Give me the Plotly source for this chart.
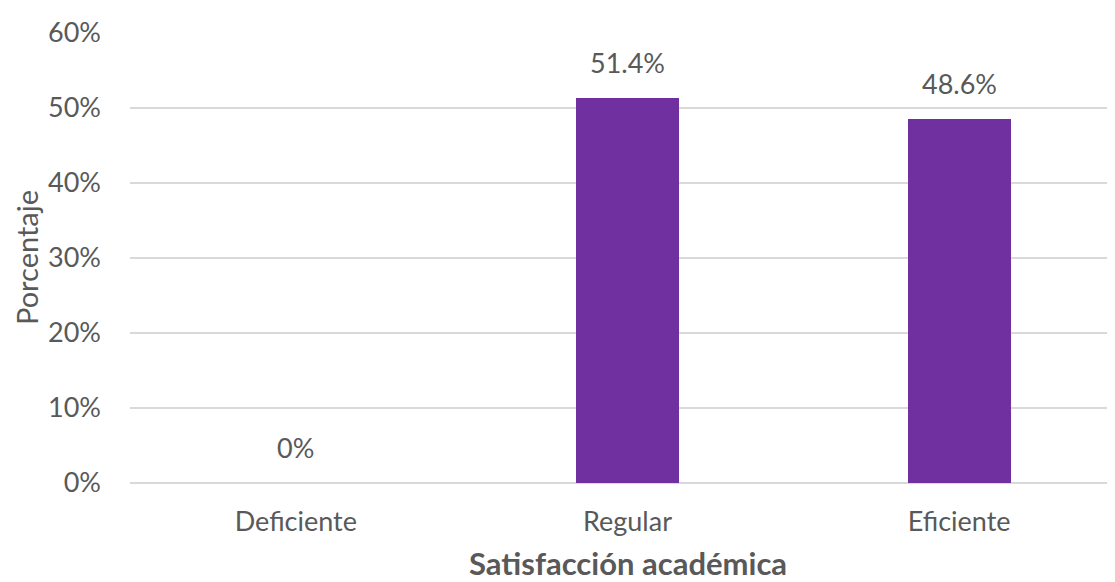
import plotly.graph_objects as go

categories = ["Deficiente", "Regular", "Eficiente"]
values = [0.0, 0.514, 0.486]
labels = ["0%", "51.4%", "48.6%"]
tick_vals = [0, 0.1, 0.2, 0.3, 0.4, 0.5, 0.6]
tick_text = ["0%", "10%", "20%", "30%", "40%", "50%", "60%"]
x_title = "Satisfacción académica"
y_title = "Porcentaje"

FONT = "Lato"
GRAY = "#595959"

fig = go.Figure()
fig.add_trace(go.Bar(
    x=categories, y=values, width=0.31,
    marker=dict(color="#7030A0", line=dict(width=0)),
    hoverinfo="skip",
))
for c, v, t in zip(categories, values, labels):
    fig.add_annotation(x=c, y=v, text=t, showarrow=False, yanchor="bottom", yshift=17,
                       font=dict(family=FONT, size=27, color=GRAY))
fig.add_annotation(xref="paper", yref="paper", x=0.5, y=0, xshift=5, yshift=-59,
                   xanchor="center", yanchor="top", showarrow=False,
                   text=f"<b>{x_title}</b>", font=dict(family=FONT, size=31, color=GRAY))
fig.add_annotation(xref="paper", yref="paper", x=0, y=0.5, xshift=-104,
                   xanchor="center", yanchor="middle", showarrow=False, textangle=-90,
                   text=y_title, font=dict(family=FONT, size=29, color=GRAY))
fig.update_layout(
    width=1107, height=574,
    margin=dict(l=122, r=0, t=25, b=99),
    paper_bgcolor="white", plot_bgcolor="white",
    showlegend=False,
    font=dict(family=FONT, color=GRAY, size=27),
    bargap=0,
)
fig.update_xaxes(
    range=[-0.5, 2.47], showgrid=False, showline=False, ticks="", automargin=False,
    tickfont=dict(family=FONT, size=27, color=GRAY), ticklabelstandoff=20,
)
fig.update_yaxes(
    range=[0, 0.6], tickvals=tick_vals, ticktext=tick_text, automargin=False,
    showgrid=True, gridcolor="#D9D9D9", gridwidth=1.5, zeroline=True, zerolinecolor="#D9D9D9", zerolinewidth=1.5,
    showline=False, ticks="", ticklabelstandoff=28,
    tickfont=dict(family=FONT, size=27, color=GRAY),
)
fig.write_html("out.html")
